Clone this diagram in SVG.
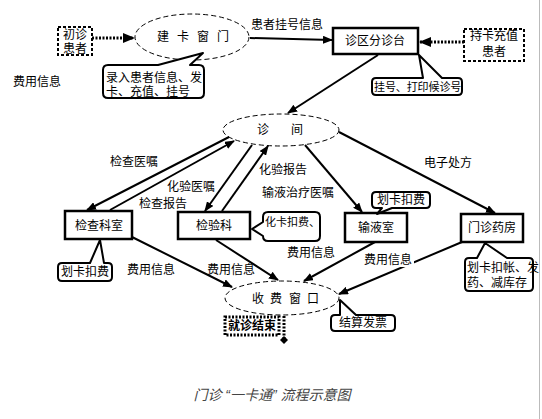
<svg xmlns="http://www.w3.org/2000/svg" width="542" height="419" viewBox="0 0 542 419">
<style>
.t{font-family:"Liberation Sans","Noto Sans CJK SC",sans-serif;font-size:12px;fill:#000}
.s{font-size:11px}
.c{text-anchor:middle}
.box{fill:#fff;stroke:#000;stroke-width:2.5}
.dbox{fill:#fff;stroke:#000;stroke-width:2;stroke-dasharray:3 2}
.ell{fill:#fff;stroke:#000;stroke-width:1;stroke-dasharray:5 3}
.ln{stroke:#000;stroke-width:2;fill:none}
.dot{stroke:#000;stroke-width:3;stroke-dasharray:2 1.5;fill:none}
.call{fill:#fff;stroke:#000;stroke-width:2;stroke-linejoin:round}
</style>
<defs>
<marker id="ah" markerWidth="10" markerHeight="8" refX="9" refY="4" orient="auto" markerUnits="userSpaceOnUse"><path d="M0,0 L10,4 L0,8 z"/></marker>
<marker id="ah2" markerWidth="12" markerHeight="10" refX="11" refY="5" orient="auto" markerUnits="userSpaceOnUse"><path d="M0,0 L12,5 L0,10 z"/></marker>
<marker id="dm" markerWidth="8" markerHeight="8" refX="4" refY="4" orient="auto" markerUnits="userSpaceOnUse"><path d="M0,4 L4,0 L8,4 L4,8 z"/></marker>
</defs>
<rect width="542" height="419" fill="#fff"/>
<line x1="539.5" y1="0" x2="539.5" y2="419" stroke="#bbb" stroke-width="1"/>

<g id="n-chuzhen">
<rect class="dbox" x="58" y="27" width="34" height="28"/>
<text class="t c" x="75" y="39">初诊</text>
<text class="t c" x="75" y="53">患者</text>
</g>
<g id="n-jianka">
<ellipse class="ell" cx="192" cy="37" rx="57" ry="23"/>
<text class="t" x="157" y="41" letter-spacing="8">建卡窗门</text>
</g>
<g id="n-fenzhen">
<rect class="box" x="333" y="28" width="85" height="26"/>
<text class="t c" x="375" y="45">诊区分诊台</text>
</g>
<g id="n-chika">
<rect class="dbox" x="464" y="29" width="60" height="32"/>
<text class="t c" x="494" y="40">持卡充值</text>
<text class="t c" x="494" y="56">患者</text>
</g>
<g id="n-zhenjian">
<ellipse class="ell" cx="281" cy="130" rx="58" ry="16"/>
<text class="t" x="257 291" y="134">诊间</text>
</g>
<g id="n-jiancha">
<rect class="box" x="65" y="211" width="67" height="28"/>
<text class="t c" x="99" y="230">检查科室</text>
</g>
<g id="n-jianyan">
<rect class="box" x="178" y="212" width="72" height="27"/>
<text class="t c" x="214" y="230">检验科</text>
</g>
<g id="n-shuye">
<rect class="box" x="345" y="213" width="62" height="29"/>
<text class="t c" x="376" y="232">输液室</text>
</g>
<g id="n-yaofang">
<rect class="box" x="461" y="214" width="62" height="28"/>
<text class="t c" x="492" y="232">门诊药房</text>
</g>
<g id="n-shoufei">
<ellipse class="ell" cx="282" cy="298" rx="57" ry="17"/>
<text class="t" x="252 270 289 307" y="303">收费窗口</text>
</g>
<g id="n-jieshu">
<rect x="225" y="317" width="54" height="18" fill="#fff" stroke="#000" stroke-width="3" stroke-dasharray="2 1.5"/>
<text class="t c" x="252" y="330" font-weight="bold">就诊结束</text>
</g>

<g id="callouts">
<path class="call" d="M108,65 H158 L203,53 L190,65 H199 Q204,65 204,70 V93 Q204,98 199,98 H108 Q103,98 103,93 V70 Q103,65 108,65 Z"/>
<text class="t" x="106" y="82">录入患者信息、发</text>
<text class="t" x="106" y="96">卡、充值、挂号</text>
<path class="call" d="M376,78 H423 L419,55 L442,78 H458 Q462,78 462,82 V91 Q462,95 458,95 H376 Q372,95 372,91 V82 Q372,78 376,78 Z"/>
<text class="t s" x="374" y="91" letter-spacing="-0.1">挂号、打印候诊号</text>
<path class="call" d="M62,263 H90 L100,240 L104,263 H108 Q112,263 112,267 V277 Q112,281 108,281 H62 Q58,281 58,277 V267 Q58,263 62,263 Z"/>
<text class="t c" x="85" y="276">划卡扣费</text>
<path class="call" d="M268,212 H315 Q320,212 320,217 V236 Q320,241 315,241 H268 Q263,241 263,236 L252,229 L263,222 V217 Q263,212 268,212 Z"/>
<text class="t s" x="265" y="226">化卡扣费、</text>
<path class="call" d="M376,192 H426 Q430,192 430,196 V204 Q430,208 426,208 H392 L377,214 L382,208 H376 Q372,208 372,204 V196 Q372,192 376,192 Z"/>
<text class="t c" x="401" y="204">划卡扣费</text>
<path class="call" d="M469,258 H477 L485,243 L507,258 H529 Q533,258 533,262 V287 Q533,291 529,291 H469 Q465,291 465,287 V262 Q465,258 469,258 Z"/>
<text class="t" x="467" y="272" font-size="10.5">划卡扣帐、发</text>
<text class="t" x="467" y="287" font-size="10.5">药、减库存</text>
<path class="call" d="M335,315 H340 L340,300 L356,315 H391 Q395,315 395,319 V327 Q395,331 391,331 H335 Q331,331 331,327 V319 Q331,315 335,315 Z"/>
<text class="t c" x="363" y="327">结算发票</text>
</g>

<g id="connectors">
<line class="dot" x1="92" y1="38" x2="134" y2="38" marker-end="url(#ah2)"/>
<line class="dot" x1="464" y1="42" x2="420" y2="42" marker-end="url(#ah2)"/>
<line class="ln" x1="250" y1="38" x2="332" y2="40" marker-end="url(#ah)"/>
<line class="ln" x1="378" y1="55" x2="288" y2="113" marker-end="url(#ah)"/>
<line class="ln" x1="229" y1="137" x2="87" y2="210" marker-end="url(#ah)"/>
<line class="ln" x1="110" y1="210" x2="234" y2="141" marker-end="url(#ah)"/>
<line class="ln" x1="252" y1="145" x2="205" y2="211" marker-end="url(#ah)"/>
<line class="ln" x1="222" y1="211" x2="268" y2="146" marker-end="url(#ah)"/>
<line class="ln" x1="305" y1="145" x2="362" y2="212" marker-end="url(#ah)"/>
<line class="ln" x1="339" y1="132" x2="495" y2="213" marker-end="url(#ah)"/>
<line class="ln" x1="132" y1="237" x2="232" y2="287" marker-end="url(#ah)"/>
<line class="ln" x1="216" y1="240" x2="278" y2="280" marker-end="url(#ah)"/>
<line class="ln" x1="375" y1="242" x2="304" y2="281" marker-end="url(#ah)"/>
<line class="ln" x1="462" y1="242" x2="339" y2="294" marker-end="url(#ah)"/>
<line class="dot" x1="284" y1="316" x2="284" y2="340" marker-end="url(#dm)"/>
</g>

<g id="labels">
<text class="t" x="251" y="29">患者挂号信息</text>
<text class="t" x="13" y="86">费用信息</text>
<text class="t" x="110" y="166">检查医嘱</text>
<text class="t" x="139" y="208">检查报告</text>
<text class="t" x="167" y="191">化验医嘱</text>
<text class="t" x="259" y="174">化验报告</text>
<text class="t" x="262" y="197">输液治疗医嘱</text>
<text class="t" x="424" y="167">电子处方</text>
<text class="t" x="127" y="274">费用信息</text>
<text class="t" x="207" y="274">费用信息</text>
<text class="t" x="287" y="257">费用信息</text>
<rect x="362" y="252" width="52" height="15" fill="#fff"/>
<text class="t" x="364" y="264">费用信息</text>
</g>

<text x="272" y="400" text-anchor="middle" font-family="Liberation Sans, Noto Sans CJK SC, sans-serif" font-size="14" font-style="italic" fill="#444">门诊 “一卡通” 流程示意图</text>
</svg>
